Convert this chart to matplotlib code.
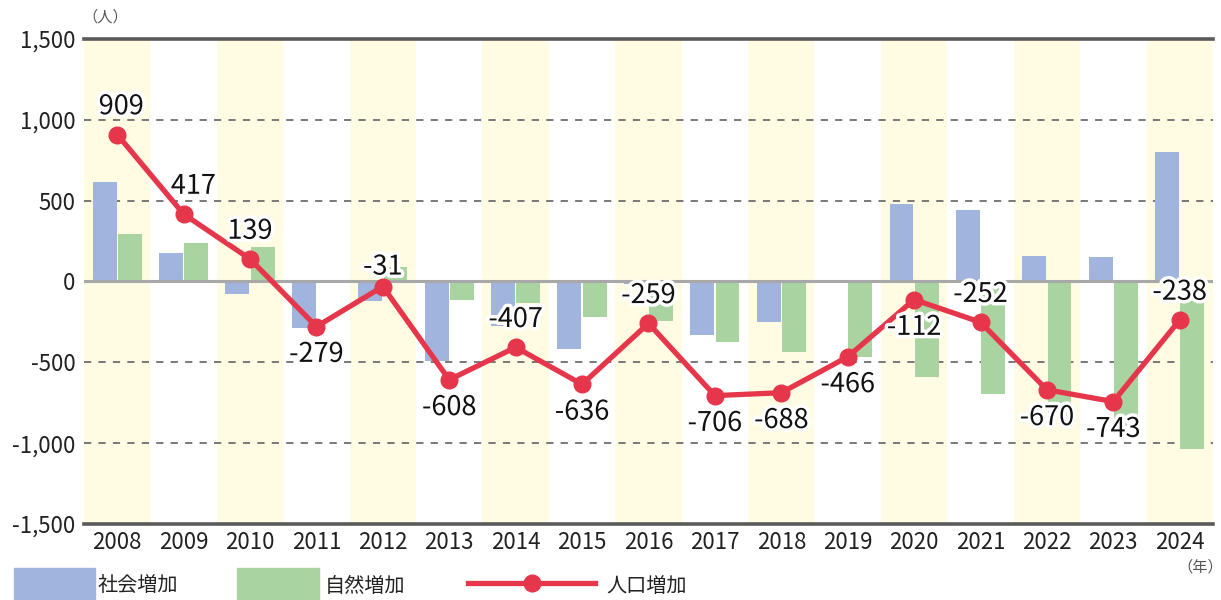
import matplotlib

matplotlib.use("Agg")
import matplotlib.pyplot as plt
import matplotlib.patheffects as pe
from matplotlib.lines import Line2D
from matplotlib.patches import Rectangle
import numpy as np

plt.rcParams["font.family"] = ["Noto Sans CJK JP", "DejaVu Sans"]

# ---- data ----
years = ["2008", "2009", "2010", "2011", "2012", "2013", "2014", "2015", "2016",
         "2017", "2018", "2019", "2020", "2021", "2022", "2023", "2024"]
social = [617, 177, -75, -290, -122, -492, -277, -416, -14,
          -331, -252, 1, 480, 442, 160, 154, 800]
natural = [292, 240, 214, 11, 91, -116, -130, -220, -245,
           -375, -436, -467, -592, -694, -830, -897, -1038]
total = [909, 417, 139, -279, -31, -608, -407, -636, -259,
         -706, -688, -466, -112, -252, -670, -743, -238]
label_above = [True, True, True, False, True, False, True, False, True,
               False, False, False, False, True, False, False, True]
yticks = [1500, 1000, 500, 0, -500, -1000, -1500]
ytick_labels = ["1,500", "1,000", "500", "0", "-500", "-1,000", "-1,500"]

BLUE = "#a1b4de"
GREEN = "#a9d4a1"
RED = "#e6364b"
BAND = "#fffce3"
TXT = "#222222"

fig = plt.figure(figsize=(12.21, 6.0), dpi=100)
ax = fig.add_axes([0.0688, 0.1267, 0.9246, 0.8083])

x = np.arange(len(years))
ax.set_xlim(-0.5, len(years) - 0.5)
ax.set_ylim(-1500, 1500)

for i in x:
    if i % 2 == 0:
        ax.axvspan(i - 0.5, i + 0.5, color=BAND, zorder=0, lw=0)

for v in [1000, 500, -500, -1000]:
    ax.axhline(v, color="#6e6e6e", lw=1.3, ls=(0, (4, 4)), zorder=1)

w = 0.36
ax.bar(x - 0.19, social, width=w, color=BLUE, zorder=2)
ax.bar(x + 0.19, natural, width=w, color=GREEN, zorder=2)
ax.axhline(0, color="#a8a8a8", lw=2.2, zorder=3)
ax.axhline(1500, color="#5a5a5a", lw=2.6, zorder=3, clip_on=False)
ax.axhline(-1500, color="#5a5a5a", lw=2.6, zorder=3, clip_on=False)

ax.plot(x, total, color=RED, lw=3.8, marker="o", markersize=12, zorder=5)

outline = [pe.withStroke(linewidth=5, foreground="white")]
for xi, v, up in zip(x, total, label_above):
    off = 20 if up else -20
    dx = 0
    if v == -31:
        off = 14
    if v == 909:
        dx = 3
    if v == 417:
        dx = 7
    ax.annotate(str(v), (xi, v), textcoords="offset points", xytext=(dx, off),
                ha="center", va="center", fontsize=19.5, color="#111111",
                path_effects=outline, zorder=6)

for s in ax.spines.values():
    s.set_visible(False)
ax.set_yticks(yticks)
ax.set_yticklabels(ytick_labels)
ax.set_xticks(x)
ax.set_xticklabels(years)
ax.tick_params(axis="y", length=0, pad=6, labelsize=16, labelcolor=TXT)
ax.tick_params(axis="x", length=0, pad=5, labelsize=16, labelcolor=TXT)

fig.text(0.086, 0.972, "（人）", fontsize=11, color="#555555", ha="center", va="center")
fig.text(0.983, 0.055, "（年）", fontsize=11, color="#555555", ha="center", va="center")

# legend
fig.add_artist(Rectangle((14 / 1221, 0), 81 / 1221, 32 / 600, color=BLUE,
                         transform=fig.transFigure))
fig.text(98 / 1221, 0.022, "社会増加", fontsize=14.5, color=TXT, va="center")
fig.add_artist(Rectangle((237 / 1221, 0), 82 / 1221, 32 / 600, color=GREEN,
                         transform=fig.transFigure))
fig.text(325 / 1221, 0.022, "自然増加", fontsize=14.5, color=TXT, va="center")
fig.add_artist(Line2D([468 / 1221, 595 / 1221], [0.028, 0.028], color=RED, lw=3.8,
                      transform=fig.transFigure))
fig.add_artist(Line2D([532 / 1221], [0.028], color=RED, marker="o", markersize=12,
                      transform=fig.transFigure))
fig.text(606 / 1221, 0.022, "人口増加", fontsize=14.5, color=TXT, va="center")

fig.savefig("out.png", dpi=100)
